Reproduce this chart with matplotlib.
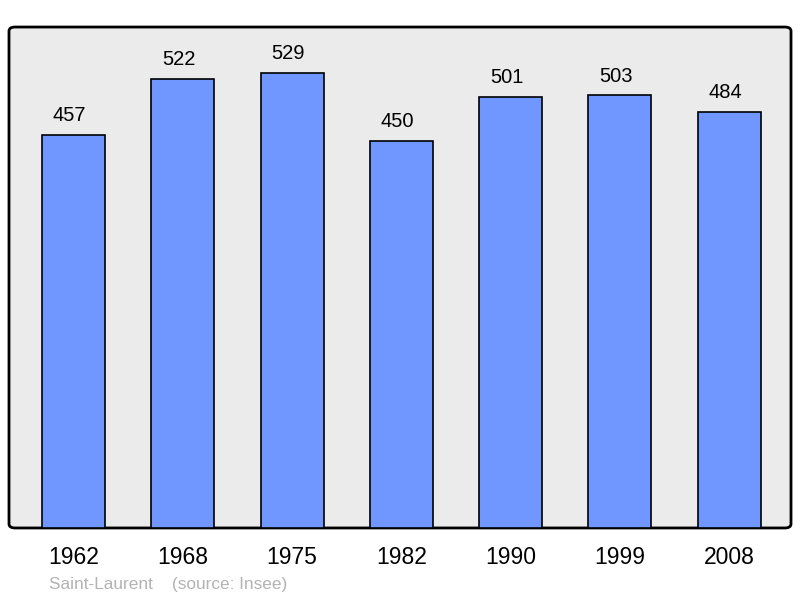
import matplotlib
matplotlib.use("Agg")
from matplotlib import pyplot as plt
from matplotlib.patches import FancyBboxPatch

years = ["1962", "1968", "1975", "1982", "1990", "1999", "2008"]
population = [457, 522, 529, 450, 501, 503, 484]
commune = "Saint-Laurent"
source = "(source: Insee)"

plt.rcParams['font.family'] = ['Liberation Sans', 'DejaVu Sans']

fig = plt.figure(figsize=(8, 5.98), dpi=100)
ax = fig.add_axes([0.01125, 0.1171, 0.9775, 0.8377])
ax.set_facecolor('none')

# rounded frame behind the bars
frame = FancyBboxPatch((0, 0), 1, 1, boxstyle="round,pad=0,rounding_size=0.008",
                       transform=ax.transAxes, facecolor='#ebebeb',
                       edgecolor='black', linewidth=2, zorder=0, clip_on=False)
ax.add_patch(frame)

x = list(range(len(years)))
ax.bar(x, population, width=0.576, color='#7096ff', edgecolor='black',
       linewidth=1.2, zorder=2)

# value labels sit a little left of the bar centre
for xi, v in zip(x, population):
    ax.annotate(str(v), (xi, v), xytext=(-3, 10), textcoords='offset points',
                ha='center', va='baseline', fontsize=14.5, color='black')

ax.set_xlim(-0.59, 6.565)
ax.set_ylim(0, 582.6)
ax.set_xticks(x)
ax.set_xticklabels(years, fontsize=16.5)
ax.tick_params(axis='x', length=0, pad=13)
ax.set_yticks([])
for s in ax.spines.values():
    s.set_visible(False)

fig.text(49/800, 1 - 584/598, commune + "    " + source, fontsize=12.4,
         color='#b3b3b3', ha='left', va='center')

fig.savefig("out.png", dpi=100)
